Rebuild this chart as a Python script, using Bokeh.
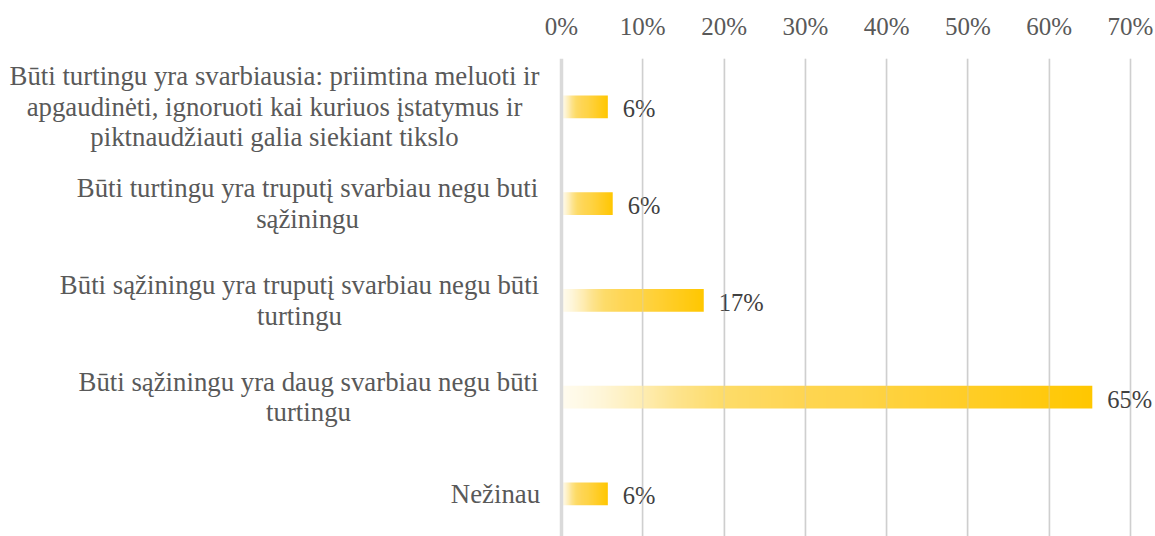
import numpy as np
from bokeh.plotting import figure
from bokeh.models import Range1d, FixedTicker, Span, ColumnDataSource
from bokeh.core.properties import value
from bokeh.embed import file_html
from bokeh.resources import INLINE

# ---- data ----
categories = [
    ["Būti turtingu yra svarbiausia: priimtina meluoti ir",
     "apgaudinėti, ignoruoti kai kuriuos įstatymus ir",
     "piktnaudžiauti galia siekiant tikslo"],
    ["Būti turtingu yra truputį svarbiau negu buti", "sąžiningu"],
    ["Būti sąžiningu yra truputį svarbiau negu būti", "turtingu"],
    ["Būti sąžiningu yra daug svarbiau negu būti", "turtingu"],
    ["Nežinau"],
]
values = [5.7, 6.3, 17.5, 65.3, 5.7]
value_labels = ["6%", "6%", "17%", "65%", "6%"]
tick_values = [0, 10, 20, 30, 40, 50, 60, 70]
tick_labels = ["0%", "10%", "20%", "30%", "40%", "50%", "60%", "70%"]

# ---- layout (not data) ----
W, H = 1155, 536
ZERO_X, SEVENTY_X, TOP = 561, 1130, 58
PXU = (SEVENTY_X - ZERO_X) / 70.0
BAND = 96.75
label_centers = [274, 307, 299, 308, 495]   # screen x of each label block centre
LINE_SP = 30.5
FONT = "Liberation Serif"
TXT = "#595959"
GRID = "#cfcfcf"

p = figure(width=W, height=H, output_backend="svg", toolbar_location=None,
           x_axis_location="above", y_axis_location=None,
           x_range=Range1d(-ZERO_X / PXU, (W - ZERO_X) / PXU),
           y_range=Range1d(-0.5 + (H - TOP) / BAND, -0.5),
           min_border_left=0, min_border_right=0, min_border_top=TOP,
           min_border_bottom=0)
p.outline_line_color = None
p.background_fill_color = "white"
p.border_fill_color = "white"

ax = p.xaxis[0]
ax.ticker = FixedTicker(ticks=tick_values)
ax.major_label_overrides = {t: l for t, l in zip(tick_values, tick_labels)}
ax.axis_line_color = None
ax.major_tick_line_color = None
ax.minor_tick_line_color = None
ax.major_label_standoff = 13
ax.major_label_text_font = FONT
ax.major_label_text_font_size = "25px"
ax.major_label_text_color = TXT

p.ygrid.grid_line_color = None
p.xgrid.ticker = FixedTicker(ticks=tick_values[1:])
p.xgrid.grid_line_color = GRID
p.xgrid.grid_line_width = 1.5

# gradient image for bars (display colours along the bar length)
N = 512
stops = [(0.00, (255, 252, 240)), (0.07, (254, 246, 218)), (0.15, (254, 237, 179)),
         (0.22, (253, 227, 140)), (0.30, (253, 220, 106)), (0.45, (254, 213, 82)),
         (0.55, (254, 212, 72)), (0.73, (255, 206, 44)), (1.00, (255, 199, 0))]
pos = np.linspace(0, 1, N)
sp = [s[0] for s in stops]
img = np.empty((2, N), dtype=np.uint32)
view = img.view(dtype=np.uint8).reshape((2, N, 4))
for c in range(3):
    ch = np.interp(pos, sp, [s[1][c] for s in stops])
    view[:, :, c] = np.round(ch).astype(np.uint8)[None, :]
view[:, :, 3] = 255

bar_h = 0.235
for i, v in enumerate(values):
    p.image_rgba(image=[img], x=0, y=i - bar_h / 2, dw=v, dh=bar_h)

# gridlines faintly showing through the bars
for t in tick_values[1:]:
    p.add_layout(Span(location=t, dimension="height", line_color=GRID,
                      line_width=1.5, line_alpha=0.35, level="overlay"))
# zero line
p.add_layout(Span(location=0, dimension="height", line_color="#dadada",
                  line_width=3.5, level="overlay"))

src = ColumnDataSource(dict(x=values, y=list(range(len(values))), t=value_labels))
p.text(x="x", y="y", text="t", source=src, x_offset=15, y_offset=2,
       text_align="left", text_baseline="middle",
       text_font=value(FONT), text_font_size="24.5px", text_color="#404040")

lx, ly, lt = [], [], []
for i, (lines, cx) in enumerate(zip(categories, label_centers)):
    n = len(lines)
    for j, line in enumerate(lines):
        lx.append((cx - ZERO_X) / PXU)
        ly.append(i + (j - (n - 1) / 2) * LINE_SP / BAND)
        lt.append(line)
p.text(x=lx, y=ly, text=lt, text_align="center", text_baseline="middle",
       text_font=value(FONT), text_font_size="26.8px", text_color=TXT)

open("out.html", "w").write(file_html(p, INLINE))
